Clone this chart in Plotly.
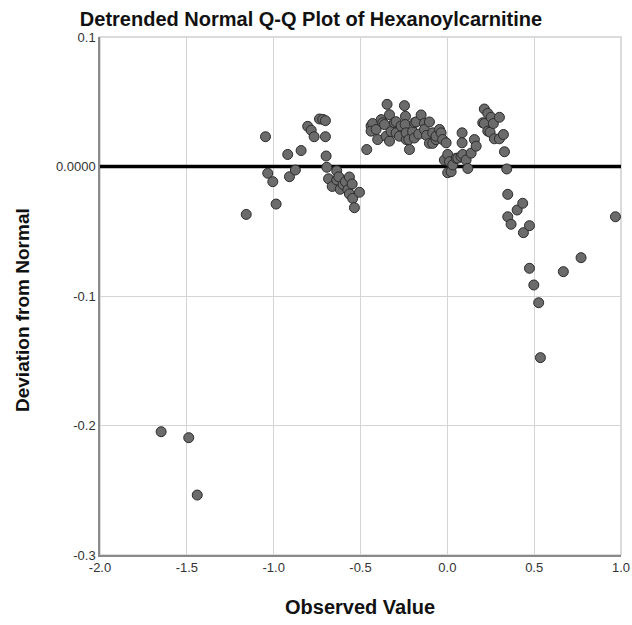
import plotly.graph_objects as go

# Observed value (x) and deviation from normal (y)
obs_value = [
    -1.648, -1.489, -1.440, -1.158,
    -1.047, -1.034, -1.005, -0.986, -0.919, -0.909, -0.875, -0.842,
    -0.804, -0.784, -0.767, -0.736, -0.717, -0.702, -0.702, -0.698, -0.694, -0.684,
    -0.663, -0.637, -0.637, -0.625, -0.617, -0.600, -0.587, -0.573, -0.564, -0.564,
    -0.548, -0.545, -0.535, -0.506, -0.464,
    -0.439, -0.430, -0.439, -0.410, -0.401, -0.381, -0.372, -0.362, -0.352, -0.347,
    -0.333, -0.333, -0.324, -0.305, -0.295, -0.295, -0.276, -0.266, -0.247, -0.241,
    -0.243, -0.237, -0.237, -0.222, -0.218, -0.200, -0.190, -0.189, -0.180, -0.165,
    -0.151, -0.132, -0.132, -0.120, -0.103, -0.103, -0.084, -0.084, -0.065, -0.065,
    -0.045, -0.036, -0.027, -0.017, -0.007, 0.002, 0.002, 0.012, 0.022, 0.031,
    0.051, 0.060, 0.079, 0.085, 0.085, 0.089, 0.108, 0.118, 0.137, 0.156, 0.166,
    0.204, 0.213, 0.213, 0.233, 0.233, 0.246, 0.252, 0.265, 0.271, 0.300, 0.300,
    0.323, 0.329, 0.342, 0.348, 0.348, 0.367, 0.402, 0.434, 0.438, 0.473, 0.473,
    0.498, 0.526, 0.536, 0.668, 0.770, 0.968,
]
deviation = [
    -0.2048, -0.2094, -0.2537, -0.0370,
    0.0230, -0.0052, -0.0117, -0.0290, 0.0093, -0.0079, -0.0027, 0.0123,
    0.0310, 0.0280, 0.0230, 0.0367, 0.0364, 0.0354, 0.0230, 0.0081, -0.0006, -0.0095,
    -0.0154, -0.0033, -0.0104, -0.0080, -0.0176, -0.0140, -0.0117, -0.0181, -0.0081, -0.0212,
    -0.0135, -0.0246, -0.0318, -0.0199, 0.0131,
    0.0313, 0.0332, 0.0273, 0.0286, 0.0208, 0.0362, 0.0338, 0.0324, 0.0234, 0.0480,
    0.0400, 0.0196, 0.0270, 0.0338, 0.0346, 0.0260, 0.0234, 0.0313, 0.0470, 0.0388,
    0.0324, 0.0208, 0.0260, 0.0208, 0.0131, 0.0270, 0.0220, 0.0338, 0.0344, 0.0250,
    0.0398, 0.0333, 0.0286, 0.0240, 0.0344, 0.0179, 0.0179, 0.0260, 0.0208, 0.0234,
    0.0286, 0.0260, 0.0208, 0.0050, 0.0183, 0.0093, -0.0048, 0.0037, -0.0040, 0.0012,
    0.0064, 0.0064, 0.0077, 0.0260, 0.0183, 0.0093, 0.0050, -0.0015, 0.0103, 0.0208, 0.0157,
    0.0338, 0.0444, 0.0332, 0.0410, 0.0273, 0.0265, 0.0380, 0.0332, 0.0214, 0.0380, 0.0214,
    0.0247, 0.0114, -0.0019, -0.0215, -0.0388, -0.0446, -0.0336, -0.0284, -0.0511, -0.0457, -0.0786,
    -0.0915, -0.1052, -0.1476, -0.0812, -0.0704, -0.0388,
]

ref_x = [-2.0, 1.0]
ref_y = [0.0, 0.0]

x_ticks = [-2.0, -1.5, -1.0, -0.5, 0.0, 0.5, 1.0]
x_ticktext = ["-2.0", "-1.5", "-1.0", "-0.5", "0.0", "0.5", "1.0"]
y_ticks = [-0.3, -0.2, -0.1, 0.0, 0.1]
y_ticktext = ["-0.3", "-0.2", "-0.1", "0.0000", "0.1"]

FONT = "Liberation Sans, Arial, sans-serif"
W, H = 632, 625

fig = go.Figure()
fig.add_trace(go.Scatter(
    x=ref_x, y=ref_y, mode="lines",
    line=dict(color="black", width=3.5), hoverinfo="skip", showlegend=False,
))
fig.add_trace(go.Scatter(
    x=obs_value, y=deviation, mode="markers",
    marker=dict(size=10, color="#6b6b6b", line=dict(color="#2b2b2b", width=1)),
    showlegend=False,
))

fig.update_layout(
    width=W, height=H,
    margin=dict(l=100, r=11, t=37, b=70, autoexpand=False),
    paper_bgcolor="white", plot_bgcolor="white",
    font=dict(family=FONT, size=11, color="#222"),
    title=dict(
        text="<b>Detrended Normal Q-Q Plot of Hexanoylcarnitine</b>",
        font=dict(family=FONT, size=20, color="#111"),
        xref="container", x=311 / W, xanchor="center",
        yref="container", y=1 - 19 / H, yanchor="middle",
    ),
    xaxis=dict(
        range=[-2.0, 1.0], tickvals=x_ticks, ticktext=x_ticktext,
        showgrid=True, gridcolor="#d4d4d4", gridwidth=1,
        zeroline=False, showline=True, linecolor="#8a8a8a", linewidth=1.5,
        ticks="", tickfont=dict(size=13, color="#333"), ticklabeloverflow="allow",
    ),
    yaxis=dict(
        range=[-0.3, 0.1], tickvals=y_ticks, ticktext=y_ticktext,
        showgrid=True, gridcolor="#d4d4d4", gridwidth=1,
        zeroline=False, showline=True, linecolor="#8a8a8a", linewidth=1.5,
        ticks="", tickfont=dict(size=13, color="#333"),
    ),
    shapes=[dict(
        type="rect", xref="paper", yref="paper", x0=0, x1=1, y0=0, y1=1,
        line=dict(color="#cfcfcf", width=1.5), layer="below",
    )],
    annotations=[
        dict(text="<b>Observed Value</b>", xref="paper", yref="paper",
             x=(360 - 100) / 521, y=(555 - 607) / 518, xanchor="center", yanchor="middle",
             showarrow=False, font=dict(family=FONT, size=20, color="#111")),
        dict(text="<b>Deviation from Normal</b>", xref="paper", yref="paper",
             x=(22 - 100) / 521, y=(555 - 310) / 518, xanchor="center", yanchor="middle",
             textangle=-90, showarrow=False, font=dict(family=FONT, size=19, color="#111")),
    ],
)

fig.write_html(
    "out.html",
    config={"displayModeBar": False},
    post_script="document.body.style.margin='0';document.body.style.overflow='hidden';",
)
